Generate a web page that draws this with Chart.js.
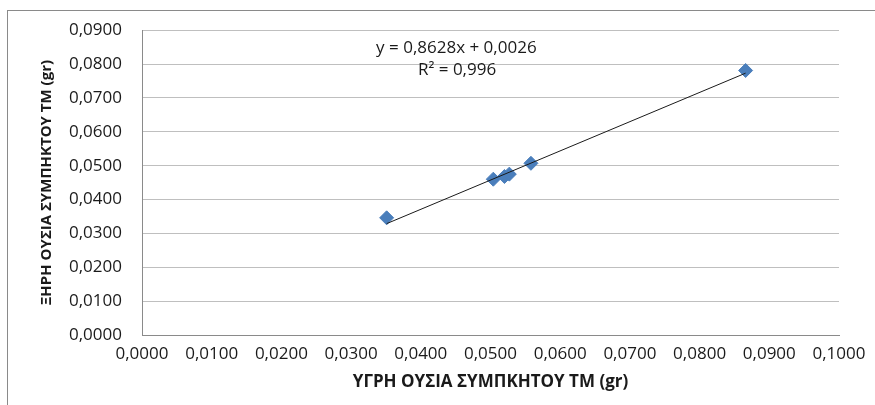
<!DOCTYPE html>
<html>
<head>
<meta charset="utf-8">
<script src="https://cdn.jsdelivr.net/npm/chart.js@4"></script>
<style>
    html, body { margin: 0; padding: 0; background: #ffffff; }
    #frame { position: absolute; left: 7px; top: 10px; width: 900px; height: 420px; border: 1px solid #8a8a8a; }
    #chart { position: absolute; left: 0; top: 0; }
</style>
</head>
<body>
<div id="frame"></div>
<canvas id="chart" width="875" height="405"></canvas>
<script>
// Wet vs dry matter of compressed TM samples (gr)
const wetMatter = [0.0351, 0.0504, 0.0520, 0.0527, 0.0558, 0.0866];
const dryMatter = [0.0346, 0.0460, 0.0468, 0.0475, 0.0507, 0.0781];

// Linear trendline as shown on the chart
const trendSlope = 0.8628;
const trendIntercept = 0.0026;
const trendLabels = ['y = 0,8628x + 0,0026', 'R² = 0,996'];

const xTickLabels = ['0,0000', '0,0100', '0,0200', '0,0300', '0,0400', '0,0500',
                     '0,0600', '0,0700', '0,0800', '0,0900', '0,1000'];
const yTickLabels = ['0,0000', '0,0100', '0,0200', '0,0300', '0,0400', '0,0500',
                     '0,0600', '0,0700', '0,0800', '0,0900'];

const xTitle = 'ΥΓΡΗ ΟΥΣΙΑ ΣΥΜΠΚΗΤΟΥ ΤΜ (gr)';
const yTitle = 'ΞΗΡΗ ΟΥΣΙΑ ΣΥΜΠΗΚΤΟΥ ΤΜ (gr)';

const FONT = "'Open Sans', sans-serif";

document.addEventListener('DOMContentLoaded', function() {
    const points = wetMatter.map((x, i) => ({ x: x, y: dryMatter[i] }));
    const xMin = Math.min.apply(null, wetMatter);
    const xMax = Math.max.apply(null, wetMatter);
    const trend = [xMin, xMax].map(x => ({ x: x, y: trendSlope * x + trendIntercept }));

    // equation text, placed in data coordinates
    const equationPlugin = {
        id: 'equation',
        afterDatasetsDraw(chart) {
            const ctx = chart.ctx;
            const xs = chart.scales.x, ys = chart.scales.y;
            ctx.save();
            ctx.font = '17px ' + FONT;
            ctx.fillStyle = '#1a1a1a';
            ctx.textAlign = 'center';
            ctx.textBaseline = 'middle';
            ctx.fillText(trendLabels[0], xs.getPixelForValue(0.0451), ys.getPixelForValue(0.0848));
            ctx.fillText(trendLabels[1], xs.getPixelForValue(0.0452), ys.getPixelForValue(0.0782));
            ctx.restore();
        }
    };

    new Chart(document.getElementById('chart'), {
        type: 'scatter',
        data: {
            datasets: [
                {
                    type: 'line',
                    data: trend,
                    borderColor: '#1a1a1a',
                    borderWidth: 1,
                    pointRadius: 0,
                    fill: false,
                    order: 0
                },
                {
                    data: points,
                    pointStyle: 'rectRot',
                    pointRadius: 7,
                    backgroundColor: '#4a7ebb',
                    borderColor: '#4a7ebb',
                    borderWidth: 1,
                    order: 1
                }
            ]
        },
        options: {
            responsive: false,
            animation: false,
            devicePixelRatio: 1,
            layout: { padding: { top: 22, right: 36, left: 0, bottom: 0 } },
            plugins: {
                legend: { display: false },
                tooltip: { enabled: false }
            },
            scales: {
                x: {
                    type: 'linear',
                    min: 0,
                    max: 0.1,
                    afterFit: function(scale) { scale.height = 70; },
                    ticks: {
                        stepSize: 0.01,
                        padding: 9,
                        color: '#1a1a1a',
                        font: { family: FONT, size: 17 },
                        maxRotation: 0,
                        autoSkip: false,
                        callback: function(value, index) { return xTickLabels[index]; }
                    },
                    grid: { display: true, drawOnChartArea: false, drawTicks: false },
                    border: { display: true, color: '#8a8a8a', width: 1 },
                    title: {
                        display: true,
                        text: xTitle,
                        color: '#1a1a1a',
                        font: { family: FONT, size: 17, weight: 'bold' },
                        padding: { top: 0, bottom: 13 }
                    }
                },
                y: {
                    type: 'linear',
                    min: 0,
                    max: 0.09,
                    afterFit: function(scale) { scale.width = 142; },
                    ticks: {
                        stepSize: 0.01,
                        padding: 20,
                        color: '#1a1a1a',
                        font: { family: FONT, size: 17 },
                        callback: function(value, index) { return yTickLabels[index]; }
                    },
                    grid: { color: '#bfbfbf', drawTicks: false },
                    border: { display: true, color: '#8a8a8a', width: 1 },
                    title: {
                        display: true,
                        text: yTitle,
                        color: '#1a1a1a',
                        font: { family: FONT, size: 15, weight: 'bold' },
                        padding: { top: 38, bottom: 0 }
                    }
                }
            }
        },
        plugins: [equationPlugin]
    });
});
</script>
</body>
</html>
